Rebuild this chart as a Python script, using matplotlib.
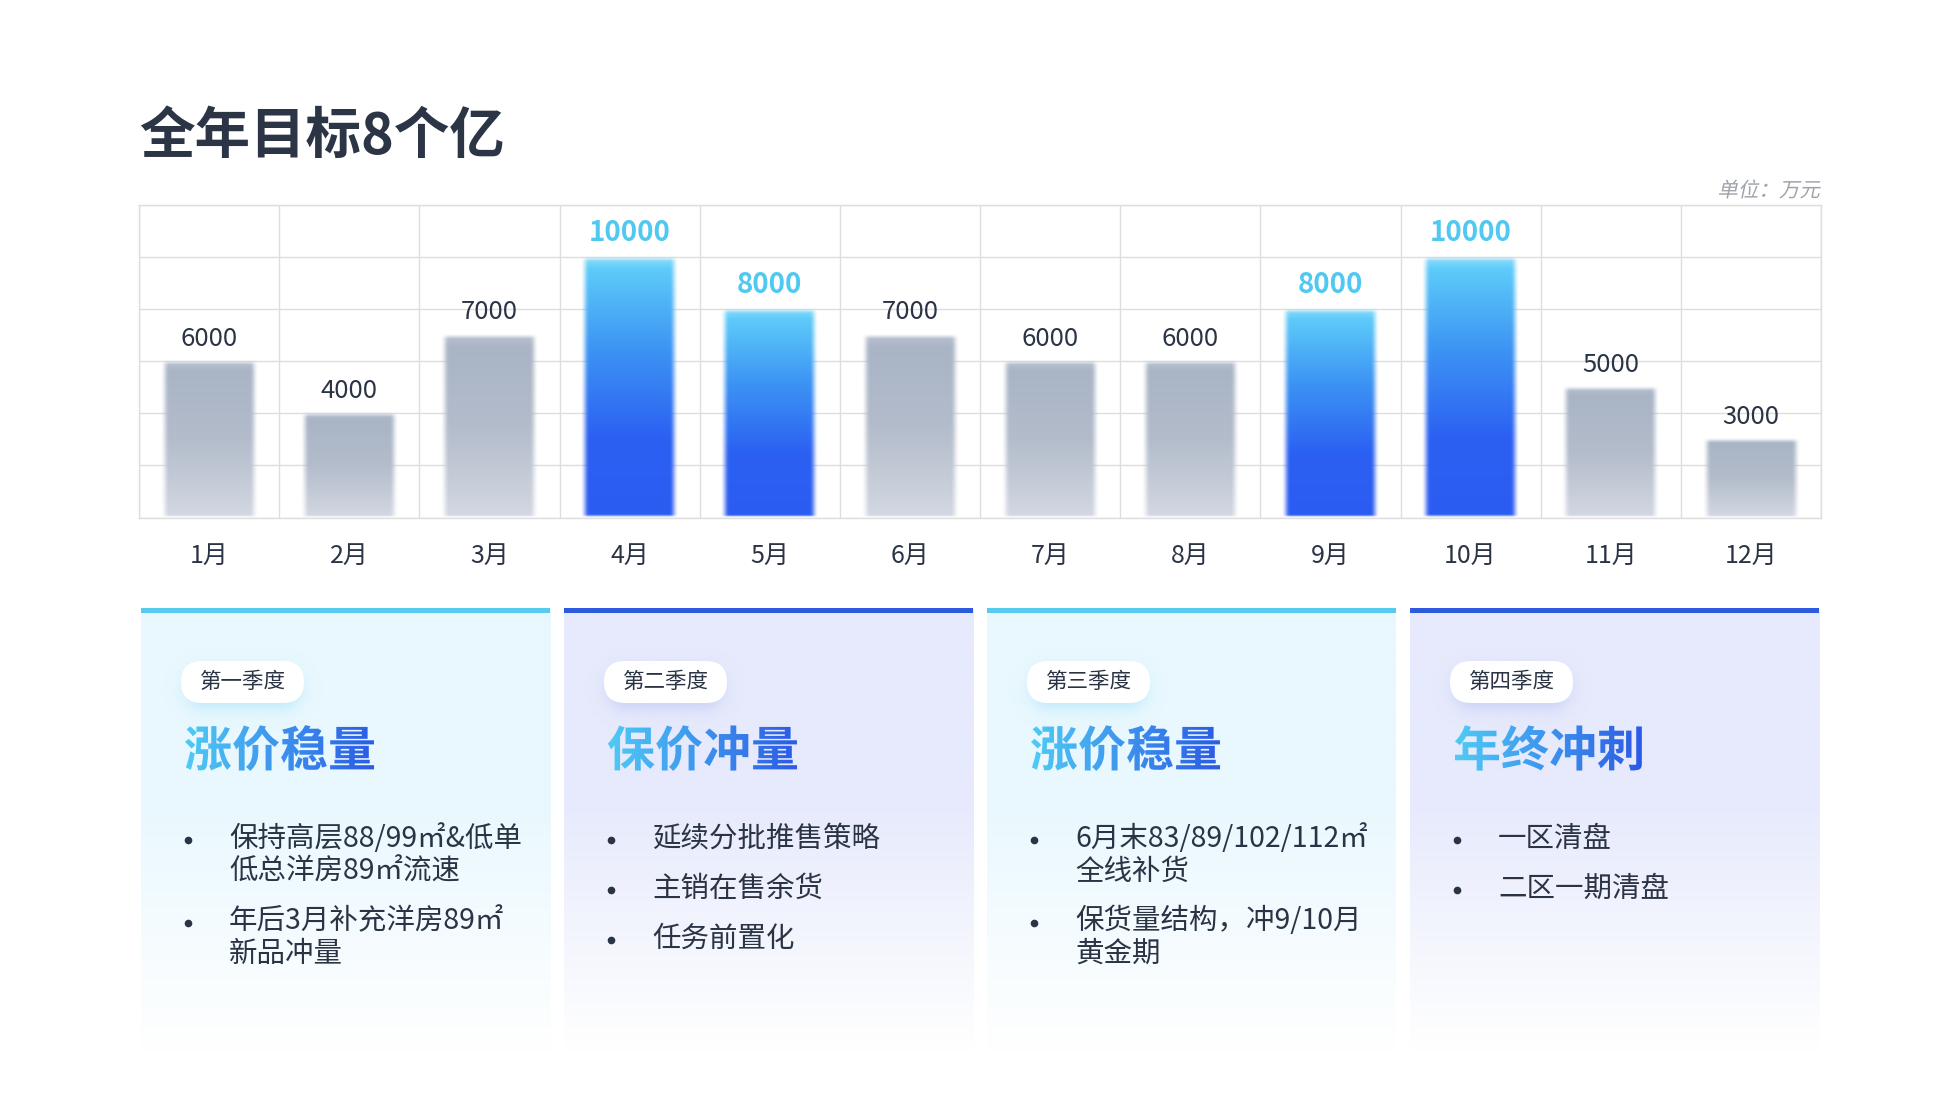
import numpy as np
import matplotlib
matplotlib.use('Agg')
import matplotlib.pyplot as plt
from matplotlib.colors import to_rgb
from matplotlib.patches import FancyBboxPatch, PathPatch, Rectangle
from matplotlib.textpath import TextPath
from matplotlib.font_manager import FontProperties
from matplotlib.transforms import Affine2D

plt.rcParams['font.family'] = ['Noto Sans CJK SC', 'DejaVu Sans']

# data
months = [f'{i}月' for i in range(1, 13)]
targets = [6000, 4000, 7000, 10000, 8000, 7000, 6000, 6000, 8000, 10000, 5000, 3000]
highlight = [False, False, False, True, True, False, False, False, True, True, False, False]

quarters = ['第一季度', '第二季度', '第三季度', '第四季度']
themes = ['涨价稳量', '保价冲量', '涨价稳量', '年终冲刺']
bullets = [
    [['保持高层88/99㎡&低单', '低总洋房89㎡流速'], ['年后3月补充洋房89㎡', '新品冲量']],
    [['延续分批推售策略'], ['主销在售余货'], ['任务前置化']],
    [['6月末83/89/102/112㎡', '全线补货'], ['保货量结构，冲9/10月', '黄金期']],
    [['一区清盘'], ['二区一期清盘']],
]

W, H = 1960, 1103
DARK = '#2B3445'
CYAN = '#4FC8F2'
GRID = '#DEDEDE'


def ramp(stops, n):
    pos = np.linspace(0, 1, n)
    ps = [p for p, _ in stops]
    cols = np.array([to_rgb(c) for _, c in stops])
    return np.stack([np.interp(pos, ps, cols[:, k]) for k in range(3)], axis=-1)


def smooth(t):
    t = np.clip(t, 0, 1)
    return t * t * (3 - 2 * t)


def soft_box(ax, x0, y0, w, h, r, blur, color, alpha):
    pad = 3 * blur
    nx, ny = int(w + 2 * pad), int(h + 2 * pad)
    X = np.linspace(x0 - pad, x0 + w + pad, nx)
    Y = np.linspace(y0 - pad, y0 + h + pad, ny)
    cx, cy = x0 + w / 2, y0 + h / 2
    qx = np.abs(X[None, :] - cx) - (w / 2 - r)
    qy = np.abs(Y[:, None] - cy) - (h / 2 - r)
    d = np.hypot(np.maximum(qx, 0), np.maximum(qy, 0)) + np.minimum(np.maximum(qx, qy), 0) - r
    a = alpha / (1 + np.exp(d / blur * 1.8))
    img = np.zeros((ny, nx, 4))
    img[..., :3] = to_rgb(color)
    img[..., 3] = a
    ax.imshow(img, extent=(x0 - pad, x0 + w + pad, y0 + h + pad, y0 - pad),
              interpolation='bilinear', aspect='auto', zorder=2)


def gradient_text(ax, s, x, y_center, size, c1, c2):
    prop = FontProperties(family='Noto Sans CJK SC', weight='bold')
    tp = TextPath((0, 0), s, size=size, prop=prop)
    base = y_center + 0.38 * size
    path = Affine2D().scale(1, -1).translate(x, base).transform_path(tp)
    ext = path.get_extents()
    patch = PathPatch(path, facecolor='none', edgecolor='none')
    ax.add_patch(patch)
    grad = ramp([(0, c1), (1, c2)], 200)[None, :, :]
    im = ax.imshow(grad, extent=(ext.x0, ext.x1, ext.y1, ext.y0),
                   interpolation='bilinear', aspect='auto', zorder=4)
    im.set_clip_path(patch)


def italic_text(ax, s, x_right, y_center, size, color):
    tp = TextPath((0, 0), s, size=size, prop=FontProperties(family='Noto Sans CJK SC'))
    ext = tp.get_extents()
    path = (Affine2D().skew_deg(12, 0).scale(1, -1)
            .translate(x_right - ext.x1 - 2, y_center + 0.38 * size).transform_path(tp))
    ax.add_patch(PathPatch(path, facecolor=color, edgecolor='none', zorder=4))


fig = plt.figure(figsize=(W / 100, H / 100), dpi=100)
fig.patch.set_facecolor('white')

# overlay in pixel coordinates for the layout pieces
ov = fig.add_axes([0, 0, 1, 1], zorder=0)
ov.set_xlim(0, W)
ov.set_ylim(H, 0)
ov.axis('off')

ov.text(139, 137, '全年目标8个亿', fontsize=40, fontweight='bold', va='center', color='#2B3545')
italic_text(ov, '单位：万元', 1821, 189, 20.5, '#9EA3AA')

# quarter cards
card_x = [141, 564, 987, 1410]
card_w = 409
card_top, card_bot = 609, 1090
for i in range(4):
    x0 = card_x[i]
    cyan_card = i % 2 == 0
    top_col = '#E9F8FE' if cyan_card else '#E6EAFC'
    line_col = '#55CBF0' if cyan_card else '#2D5BE0'
    glow_col = '#8FDBF6' if cyan_card else '#A9B6F2'
    bg = ramp([(0, top_col), (0.4, top_col), (0.92, '#FFFFFF'), (1, '#FFFFFF')], 300)
    bg = np.concatenate([bg, np.ones((300, 1))], axis=1)[:, None, :]
    ov.imshow(bg, extent=(x0, x0 + card_w, card_bot, card_top), aspect='auto',
              interpolation='bilinear', zorder=1)
    ov.add_patch(Rectangle((x0, card_top - 1), card_w, 4.5, facecolor=line_col,
                           edgecolor='none', zorder=3))

    # pill label
    px, py, pw, ph = x0 + 40, 661, 123, 42
    soft_box(ov, px + 6, py + 10, pw - 12, ph - 6, 18, 9, glow_col, 0.55)
    ov.add_patch(FancyBboxPatch((px, py), pw, ph, boxstyle='round,pad=0,rounding_size=21',
                                facecolor='white', edgecolor='none', zorder=3))
    ov.text(px + pw / 2, py + ph / 2, quarters[i], ha='center', va='center',
            fontsize=15.5, fontweight='medium', color=DARK, zorder=4)

    gradient_text(ov, themes[i], x0 + 43, 748, 48, '#4FCBF5', '#2B5AE6')

    y = 839
    for item in bullets[i]:
        ov.plot([x0 + 47], [y + 1], marker='o', markersize=5.5, color=DARK,
                markeredgewidth=0, zorder=4)
        for j, line in enumerate(item):
            ov.text(x0 + 88, y + j * 32.5, line, ha='left', va='center', fontsize=20.5,
                    fontweight='medium', color=DARK, zorder=4)
        y += 50 + (len(item) - 1) * 32.5

ov.set_xlim(0, W)
ov.set_ylim(H, 0)

# bar chart
ax = fig.add_axes([139 / W, 1 - 517.5 / H, (1821 - 139) / W, (517.5 - 205) / H], zorder=1)
ax.patch.set_alpha(0)
x = np.arange(len(months))
bars = ax.bar(x, targets, width=0.69, color='none', edgecolor='none')

gray_stops = [(0, '#BBC3D1'), (0.07, '#A9B4C5'), (0.5, '#B3BCCB'), (1, '#D3D8E2')]
blue_stops = [(0, '#92DDFB'), (0.05, '#5DCBF9'), (0.35, '#3D95F4'), (0.7, '#2B60F2'), (1, '#2C5CF3')]
px_per_unit = 312.5 / 12000
for rect, hl, v in zip(bars, highlight, targets):
    n, m = 200, 80
    h_px = rect.get_height() * px_per_unit
    col = ramp(blue_stops if hl else gray_stops, n)
    yy = np.linspace(0, 1, n)[:, None]
    xx = np.linspace(0, 1, m)[None, :]
    sx = smooth(np.minimum(xx, 1 - xx) / 0.09 + 0.1)
    st = smooth(yy * h_px / 6.0 + 0.15)
    sb = smooth((1 - yy) * h_px / 3.0 + 0.3)
    img = np.zeros((n, m, 4))
    img[..., :3] = col[:, None, :]
    img[..., 3] = sx * st * sb
    x0 = rect.get_x()
    ax.imshow(img, extent=(x0, x0 + rect.get_width(), 0, rect.get_height()),
              aspect='auto', interpolation='bilinear', zorder=2)
    ax.annotate(f'{v}', (x0 + rect.get_width() / 2, v), xytext=(0, 7),
                textcoords='offset points', ha='center', va='bottom',
                fontsize=20 if hl else 18.5, fontweight='bold' if hl else 'normal',
                color=CYAN if hl else DARK, zorder=3)

ax.set_xlim(-0.5, 11.5)
ax.set_ylim(0, 12000)
ax.set_yticks(np.arange(0, 12001, 2000))
ax.set_yticklabels([])
ax.set_xticks(x, months)
ax.set_xticks(np.arange(-0.5, 12, 1), minor=True)
ax.grid(which='minor', axis='x', color=GRID, lw=1)
ax.grid(which='major', axis='y', color=GRID, lw=1)
ax.set_axisbelow(True)
for sp in ax.spines.values():
    sp.set_color(GRID)
    sp.set_linewidth(1)
ax.tick_params(axis='both', which='both', length=0)
ax.tick_params(axis='x', pad=18, labelsize=18, labelcolor=DARK)

fig.savefig('out.png', dpi=100, facecolor='white')
